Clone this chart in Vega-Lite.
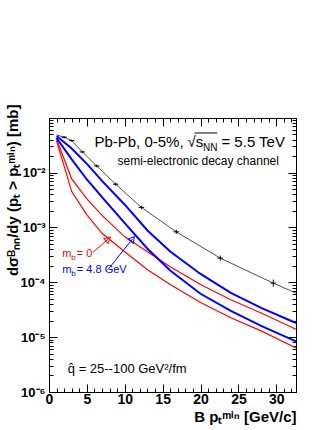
{
  "$schema": "https://vega.github.io/schema/vega-lite/v6.json",
  "width": 247,
  "height": 274,
  "autosize": {"type": "none"},
  "padding": {"left": 49, "top": 118, "right": 36, "bottom": 38},
  "background": "white",
  "config": {
    "view": {"stroke": "black", "strokeWidth": 1},
    "font": "Liberation Sans",
    "axis": {"grid": false, "domainColor": "black", "tickColor": "black", "labelColor": "black", "titleColor": "black", "labelFont": "Liberation Sans", "labelFontWeight": "bold", "labelFontSize": 14, "titleFont": "Liberation Sans", "titleFontWeight": "bold", "titleFontSize": 15, "labelOverlap": false, "labelFlush": false, "domainWidth": 1, "tickWidth": 1}
  },
  "datasets": {
    "curves": [
      {"series": "mb48_q25", "x": 1, "y": 0.0466}, {"series": "mb48_q25", "x": 3, "y": 0.0276}, {"series": "mb48_q25", "x": 5, "y": 0.0144}, {"series": "mb48_q25", "x": 7, "y": 0.00706}, {"series": "mb48_q25", "x": 10, "y": 0.0026}, {"series": "mb48_q25", "x": 13, "y": 0.00088}, {"series": "mb48_q25", "x": 16, "y": 0.000364}, {"series": "mb48_q25", "x": 20, "y": 0.000142}, {"series": "mb48_q25", "x": 24, "y": 0.000064}, {"series": "mb48_q25", "x": 28, "y": 0.0000343}, {"series": "mb48_q25", "x": 32.6, "y": 0.0000181},
      {"series": "mb48_q100", "x": 1, "y": 0.0428}, {"series": "mb48_q100", "x": 3, "y": 0.0174}, {"series": "mb48_q100", "x": 5, "y": 0.00749}, {"series": "mb48_q100", "x": 7, "y": 0.00358}, {"series": "mb48_q100", "x": 10, "y": 0.0012}, {"series": "mb48_q100", "x": 13, "y": 0.000409}, {"series": "mb48_q100", "x": 16, "y": 0.000164}, {"series": "mb48_q100", "x": 20, "y": 0.0000618}, {"series": "mb48_q100", "x": 24, "y": 0.0000301}, {"series": "mb48_q100", "x": 28, "y": 0.0000161}, {"series": "mb48_q100", "x": 32.6, "y": 0.00000835},
      {"series": "mb0_q25", "x": 1, "y": 0.0406}, {"series": "mb0_q25", "x": 3, "y": 0.00768}, {"series": "mb0_q25", "x": 5, "y": 0.00332}, {"series": "mb0_q25", "x": 7, "y": 0.00166}, {"series": "mb0_q25", "x": 10, "y": 0.000674}, {"series": "mb0_q25", "x": 13, "y": 0.000362}, {"series": "mb0_q25", "x": 16, "y": 0.000193}, {"series": "mb0_q25", "x": 20, "y": 0.0000912}, {"series": "mb0_q25", "x": 24, "y": 0.0000482}, {"series": "mb0_q25", "x": 28, "y": 0.0000276}, {"series": "mb0_q25", "x": 32.6, "y": 0.0000139},
      {"series": "mb0_q100", "x": 1, "y": 0.0378}, {"series": "mb0_q100", "x": 3, "y": 0.00451}, {"series": "mb0_q100", "x": 5, "y": 0.0017}, {"series": "mb0_q100", "x": 7, "y": 0.000782}, {"series": "mb0_q100", "x": 10, "y": 0.00036}, {"series": "mb0_q100", "x": 13, "y": 0.00017}, {"series": "mb0_q100", "x": 16, "y": 0.0000908}, {"series": "mb0_q100", "x": 20, "y": 0.0000428}, {"series": "mb0_q100", "x": 24, "y": 0.0000226}, {"series": "mb0_q100", "x": 28, "y": 0.000013}, {"series": "mb0_q100", "x": 32.6, "y": 0.00000633}
    ],
    "vacuum": [
      {"x": 1, "y": 0.0487}, {"x": 2, "y": 0.0442}, {"x": 3, "y": 0.0383}, {"x": 4.4, "y": 0.0238}, {"x": 6.3, "y": 0.01324}, {"x": 8.8, "y": 0.00615}, {"x": 12.2, "y": 0.00232}, {"x": 16.8, "y": 0.000832}, {"x": 22.6, "y": 0.000276}, {"x": 29.6, "y": 0.0000966}, {"x": 32.6, "y": 0.0000635}
    ],
    "errs": [
      {"x": 2, "y": 0.0442, "lo": 0.042, "hi": 0.0465},
      {"x": 3, "y": 0.0383, "lo": 0.0365, "hi": 0.0402},
      {"x": 4.4, "y": 0.0238, "lo": 0.0227, "hi": 0.025},
      {"x": 6.3, "y": 0.01324, "lo": 0.0125, "hi": 0.014},
      {"x": 8.8, "y": 0.00615, "lo": 0.00575, "hi": 0.00658},
      {"x": 12.2, "y": 0.00232, "lo": 0.00215, "hi": 0.0025},
      {"x": 16.8, "y": 0.000832, "lo": 0.00076, "hi": 0.00091},
      {"x": 22.6, "y": 0.000276, "lo": 0.000248, "hi": 0.000307},
      {"x": 29.6, "y": 0.0000966, "lo": 0.000083, "hi": 0.000112}
    ],
    "notes": [
      {"role": "head15", "x": 5.99, "y": 0.0294, "text": "Pb-Pb, 0-5%,"},
      {"role": "head15", "x": 18.27, "y": 0.0294, "text": "√s"},
      {"role": "head15", "x": 22.76, "y": 0.0294, "text": "= 5.5 TeV"},
      {"role": "sub10", "x": 20.34, "y": 0.0248, "text": "NN"},
      {"role": "chan", "x": 9.04, "y": 0.0138, "text": "semi-electronic decay channel"},
      {"role": "red", "x": 1.74, "y": 0.000295, "text": "m"},
      {"role": "red", "x": 3.67, "y": 0.000295, "text": "= 0"},
      {"role": "redsub", "x": 2.93, "y": 0.000257, "text": "b"},
      {"role": "blue", "x": 1.74, "y": 0.000147, "text": "m"},
      {"role": "blue", "x": 3.67, "y": 0.000147, "text": "= 4.8 GeV"},
      {"role": "bluesub", "x": 2.93, "y": 0.000128, "text": "b"},
      {"role": "qhat", "x": 2.48, "y": 0.00000225, "text": "q̂ = 25--100 GeV²/fm"}
    ],
    "overline": [{"x": 19.2, "x2": 22.2, "y": 0.0528}],
    "arrows": [
      {"arrow": "m0", "part": "start", "x": 5.78, "y": 0.000349},
      {"arrow": "m0", "part": "head", "x": 7.81, "y": 0.000612},
      {"arrow": "m48", "part": "start", "x": 7.76, "y": 0.000169},
      {"arrow": "m48", "part": "head", "x": 11.02, "y": 0.000618}
    ]
  },
  "layer": [
    {
      "encoding": {
        "x": {"field": "x", "type": "quantitative", "scale": {"domain": [0, 32.6], "nice": false, "zero": false}, "title": "B pₜᵐⁱⁿ [GeV/c]",
          "axis": {"values": [0,1,2,3,4,5,6,7,8,9,10,11,12,13,14,15,16,17,18,19,20,21,22,23,24,25,26,27,28,29,30,31,32],
            "labelExpr": "datum.value % 5 == 0 ? datum.label : ''",
            "tickSize": {"condition": {"test": "datum.value % 5 == 0", "value": -8}, "value": -4},
            "labelPadding": 8, "labelBaseline": "top",
            "titleAlign": "right", "titleX": 247, "titleY": 29, "titleBaseline": "alphabetic"}},
        "y": {"field": "y", "type": "quantitative", "scale": {"type": "log", "domain": [0.000001, 0.099], "nice": false}, "title": "dσᴮₙₙ/dy (pₜ > pₜᵐⁱⁿ) [mb]",
          "axis": {"values": [0.000001,0.000002,0.000003,0.000004,0.000005,0.000006,0.000007,0.000008,0.000009,0.00001,0.00002,0.00003,0.00004,0.00005,0.00006,0.00007,0.00008,0.00009,0.0001,0.0002,0.0003,0.0004,0.0005,0.0006,0.0007,0.0008,0.0009,0.001,0.002,0.003,0.004,0.005,0.006,0.007,0.008,0.009,0.01,0.02,0.03,0.04,0.05,0.06,0.07,0.08,0.09],
            "labelExpr": "datum.value == 0.01 ? '10⁻²' : datum.value == 0.001 ? '10⁻³' : datum.value == 0.0001 ? '10⁻⁴' : datum.value == 0.00001 ? '10⁻⁵' : datum.value == 0.000001 ? '10⁻⁶' : ''",
            "tickSize": {"condition": {"test": "datum.value == 0.01 || datum.value == 0.001 || datum.value == 0.0001 || datum.value == 0.00001 || datum.value == 0.000001", "value": -8}, "value": -4},
            "labelPadding": 12, "labelFontSize": 13, "labelBaseline": "middle",
            "titleAngle": -90, "titleAlign": "right", "titleBaseline": "alphabetic", "titleX": -32, "titleY": -14}}
      },
      "layer": [
        {"data": {"name": "vacuum"}, "mark": {"type": "line", "color": "#222222", "strokeWidth": 0.8}},
        {"data": {"name": "errs"}, "mark": {"type": "rule", "color": "black", "strokeWidth": 1},
          "encoding": {"y": {"field": "lo", "type": "quantitative", "scale": {"type": "log", "domain": [0.000001, 0.099], "nice": false}, "title": "dσᴮₙₙ/dy (pₜ > pₜᵐⁱⁿ) [mb]"}, "y2": {"field": "hi"}}},
        {"data": {"name": "errs"}, "mark": {"type": "point", "shape": "stroke", "size": 30, "color": "black", "strokeWidth": 1, "filled": false, "opacity": 1}},
        {"data": {"name": "curves"}, "transform": [{"filter": "indexof(datum.series, 'mb0') == 0"}], "mark": {"type": "line", "color": "#ff0000", "strokeWidth": 1.2}, "encoding": {"detail": {"field": "series"}}},
        {"data": {"name": "curves"}, "transform": [{"filter": "indexof(datum.series, 'mb48') == 0"}], "mark": {"type": "line", "color": "#0000ff", "strokeWidth": 2}, "encoding": {"detail": {"field": "series"}}},
        {"data": {"name": "arrows"}, "transform": [{"filter": "datum.arrow == 'm0'"}], "mark": {"type": "line", "color": "#ff0000", "strokeWidth": 1}},
        {"data": {"name": "arrows"}, "transform": [{"filter": "datum.arrow == 'm0' && datum.part == 'head'"}], "mark": {"type": "point", "shape": "triangle-up", "angle": 49, "size": 45, "filled": false, "color": "#ff0000", "strokeWidth": 1, "opacity": 1}},
        {"data": {"name": "arrows"}, "transform": [{"filter": "datum.arrow == 'm48'"}], "mark": {"type": "line", "color": "#0000ff", "strokeWidth": 1}},
        {"data": {"name": "arrows"}, "transform": [{"filter": "datum.arrow == 'm48' && datum.part == 'head'"}], "mark": {"type": "point", "shape": "triangle-up", "angle": 39, "size": 45, "filled": false, "color": "#0000ff", "strokeWidth": 1, "opacity": 1}},
        {"data": {"name": "overline"}, "mark": {"type": "rule", "color": "black", "strokeWidth": 1}, "encoding": {"x2": {"field": "x2"}}},
        {"data": {"name": "notes"}, "transform": [{"filter": "datum.role == 'head15'"}], "mark": {"type": "text", "align": "left", "baseline": "alphabetic", "fontSize": 15, "color": "black", "font": "Liberation Sans"}, "encoding": {"text": {"field": "text"}}},
        {"data": {"name": "notes"}, "transform": [{"filter": "datum.role == 'sub10'"}], "mark": {"type": "text", "align": "left", "baseline": "alphabetic", "fontSize": 10, "color": "black", "font": "Liberation Sans"}, "encoding": {"text": {"field": "text"}}},
        {"data": {"name": "notes"}, "transform": [{"filter": "datum.role == 'chan'"}], "mark": {"type": "text", "align": "left", "baseline": "alphabetic", "fontSize": 12, "color": "black", "font": "Liberation Sans"}, "encoding": {"text": {"field": "text"}}},
        {"data": {"name": "notes"}, "transform": [{"filter": "datum.role == 'red'"}], "mark": {"type": "text", "align": "left", "baseline": "alphabetic", "fontSize": 11, "color": "#ff0000", "font": "Liberation Sans"}, "encoding": {"text": {"field": "text"}}},
        {"data": {"name": "notes"}, "transform": [{"filter": "datum.role == 'redsub'"}], "mark": {"type": "text", "align": "left", "baseline": "alphabetic", "fontSize": 8, "color": "#ff0000", "font": "Liberation Sans"}, "encoding": {"text": {"field": "text"}}},
        {"data": {"name": "notes"}, "transform": [{"filter": "datum.role == 'blue'"}], "mark": {"type": "text", "align": "left", "baseline": "alphabetic", "fontSize": 11, "color": "#0000ff", "font": "Liberation Sans"}, "encoding": {"text": {"field": "text"}}},
        {"data": {"name": "notes"}, "transform": [{"filter": "datum.role == 'bluesub'"}], "mark": {"type": "text", "align": "left", "baseline": "alphabetic", "fontSize": 8, "color": "#0000ff", "font": "Liberation Sans"}, "encoding": {"text": {"field": "text"}}},
        {"data": {"name": "notes"}, "transform": [{"filter": "datum.role == 'qhat'"}], "mark": {"type": "text", "align": "left", "baseline": "alphabetic", "fontSize": 13, "color": "black", "font": "Liberation Sans"}, "encoding": {"text": {"field": "text"}}}
      ]
    },
    {
      "data": {"name": "vacuum"},
      "mark": {"type": "point", "opacity": 0},
      "encoding": {
        "x": {"field": "x", "type": "quantitative", "scale": {"domain": [0, 32.6], "nice": false, "zero": false},
          "axis": {"orient": "top", "labels": false, "title": null, "values": [0,1,2,3,4,5,6,7,8,9,10,11,12,13,14,15,16,17,18,19,20,21,22,23,24,25,26,27,28,29,30,31,32],
            "tickSize": {"condition": {"test": "datum.value % 5 == 0", "value": -8}, "value": -4}}},
        "y": {"field": "y", "type": "quantitative", "scale": {"type": "log", "domain": [0.000001, 0.099], "nice": false},
          "axis": {"orient": "right", "labels": false, "title": null, "values": [0.000001,0.000002,0.000003,0.000004,0.000005,0.000006,0.000007,0.000008,0.000009,0.00001,0.00002,0.00003,0.00004,0.00005,0.00006,0.00007,0.00008,0.00009,0.0001,0.0002,0.0003,0.0004,0.0005,0.0006,0.0007,0.0008,0.0009,0.001,0.002,0.003,0.004,0.005,0.006,0.007,0.008,0.009,0.01,0.02,0.03,0.04,0.05,0.06,0.07,0.08,0.09],
            "tickSize": {"condition": {"test": "datum.value == 0.01 || datum.value == 0.001 || datum.value == 0.0001 || datum.value == 0.00001 || datum.value == 0.000001", "value": -8}, "value": -4}}}
      }
    }
  ],
  "resolve": {"axis": {"x": "independent", "y": "independent"}}
}
